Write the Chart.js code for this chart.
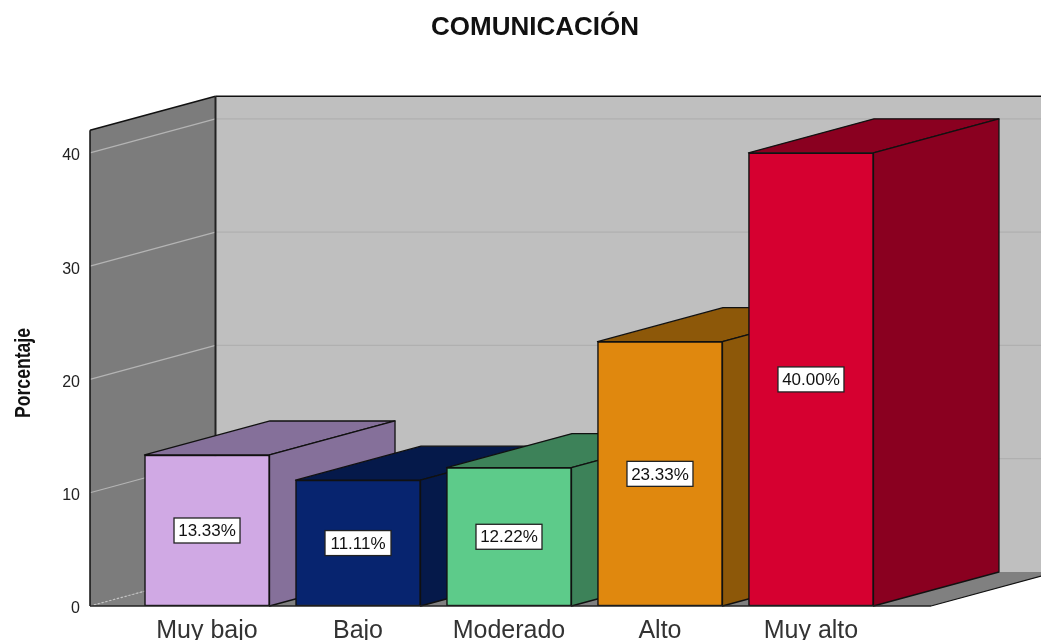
<!DOCTYPE html>
<html>
<head>
<meta charset="utf-8">
<title>COMUNICACIÓN</title>
<script src="https://cdn.jsdelivr.net/npm/chart.js@4"></script>
<style>
  html, body { margin: 0; padding: 0; background: #fff; overflow: hidden; }
  canvas { display: block; }
</style>
</head>
<body>
<canvas id="grafica" width="1041" height="640"></canvas>
<script>
// --- Datos ---
const categorias = ["Muy bajo", "Bajo", "Moderado", "Alto", "Muy alto"];
const porcentajes = [13.33, 11.11, 12.22, 23.33, 40.00];
const colorFrente = ["#d0a9e4", "#07246f", "#5dcb8a", "#e0880e", "#d60030"];
const colorLado = ["#85709a", "#05194a", "#3d8259", "#8d5809", "#8a0020"];
const marcasY = [0, 10, 20, 30, 40];

// --- Profundidad del efecto 3D ---
const fondoX = 125.5;
const fondoY = 34;
const negro = "#111";

function poligono(ctx, puntos, relleno, borde, grosor) {
    ctx.beginPath();
    puntos.forEach((p, i) => i ? ctx.lineTo(p[0], p[1]) : ctx.moveTo(p[0], p[1]));
    ctx.closePath();
    ctx.fillStyle = relleno;
    ctx.fill();
    if (borde) {
        ctx.lineJoin = "round";
        ctx.strokeStyle = borde;
        ctx.lineWidth = grosor || 1;
        ctx.stroke();
    }
}

function linea(ctx, x1, y1, x2, y2, color, grosor, guiones) {
    ctx.beginPath();
    ctx.setLineDash(guiones || []);
    ctx.moveTo(x1, y1);
    ctx.lineTo(x2, y2);
    ctx.strokeStyle = color;
    ctx.lineWidth = grosor;
    ctx.stroke();
    ctx.setLineDash([]);
}

// --- Paredes, piso y caras laterales de las barras ---
const caja3d = {
    id: "caja3d",
    afterLayout(chart) {
        // centrar el titulo como en el original
        chart.titleBlock.left = 30;
        chart.titleBlock.right = 1040;
    },
    beforeDatasetsDraw(chart) {
        const ctx = chart.ctx;
        const { left, right } = chart.chartArea;
        const escalaY = chart.scales.y;
        const base = escalaY.getPixelForValue(0);
        const tope = escalaY.top;

        ctx.save();
        // pared del fondo
        poligono(ctx, [[left + fondoX, tope - fondoY], [right + fondoX, tope - fondoY],
            [right + fondoX, base - fondoY], [left + fondoX, base - fondoY]], "#bfbfbf");
        // pared izquierda
        poligono(ctx, [[left, tope], [left + fondoX, tope - fondoY],
            [left + fondoX, base - fondoY], [left, base]], "#7c7c7c");
        // piso
        poligono(ctx, [[left, base], [right, base], [right + fondoX, base - fondoY],
            [left + fondoX, base - fondoY]], "#808080");

        // lineas de cuadricula
        marcasY.forEach(v => {
            const y = escalaY.getPixelForValue(v);
            if (v === 0) {
                linea(ctx, left, y, left + fondoX, y - fondoY, "#c4c4c4", 1.2, [2, 2]);
                return;
            }
            linea(ctx, left, y, left + fondoX, y - fondoY, "#b4b4b4", 1.2);
            linea(ctx, left + fondoX, y - fondoY, right + fondoX, y - fondoY, "#b0b0b0", 1.2);
        });

        // bordes
        linea(ctx, left + fondoX, tope - fondoY, right + fondoX, tope - fondoY, negro, 1.5);
        linea(ctx, left, tope, left + fondoX, tope - fondoY, negro, 1.5);
        linea(ctx, left + fondoX, tope - fondoY, left + fondoX, base - fondoY, "#222", 2);
        linea(ctx, left, tope, left, base, negro, 1.5);
        linea(ctx, right, base, right + fondoX, base - fondoY, negro, 1.2);

        // caras superior y lateral de cada barra
        chart.getDatasetMeta(0).data.forEach((barra, i) => {
            const mitad = barra.width / 2;
            const x1 = barra.x - mitad;
            const x2 = barra.x + mitad;
            const y = barra.y;
            poligono(ctx, [[x1, y], [x2, y], [x2 + fondoX, y - fondoY], [x1 + fondoX, y - fondoY]],
                colorLado[i], negro, 1.3);
            poligono(ctx, [[x2, y], [x2 + fondoX, y - fondoY], [x2 + fondoX, base - fondoY], [x2, base]],
                colorLado[i], negro, 1.3);
        });
        ctx.restore();
    },
    afterDatasetsDraw(chart) {
        const ctx = chart.ctx;
        const { left, right } = chart.chartArea;
        const base = chart.scales.y.getPixelForValue(0);
        ctx.save();
        linea(ctx, left, base, right, base, "#222", 1.5);
        // etiquetas de porcentaje
        ctx.font = "17px 'Liberation Sans'";
        ctx.textAlign = "center";
        ctx.textBaseline = "middle";
        chart.getDatasetMeta(0).data.forEach((barra, i) => {
            const cy = (barra.y + base) / 2;
            const ancho = 66;
            const alto = 25;
            ctx.fillStyle = "#fff";
            ctx.fillRect(barra.x - ancho / 2, cy - alto / 2, ancho, alto);
            ctx.strokeStyle = "#222";
            ctx.lineWidth = 1.3;
            ctx.strokeRect(barra.x - ancho / 2, cy - alto / 2, ancho, alto);
            ctx.fillStyle = "#111";
            ctx.fillText(porcentajes[i].toFixed(2) + "%", barra.x, cy + 1);
        });
        // titulo del eje Y, angosto como en el original
        ctx.translate(24, 373);
        ctx.rotate(-Math.PI / 2);
        ctx.scale(0.8, 1);
        ctx.font = "bold 22px 'Liberation Sans'";
        ctx.fillStyle = "#111";
        ctx.fillText("Porcentaje", 0, 0);
        ctx.restore();
    }
};

// --- Grafica ---
new Chart(document.getElementById("grafica"), {
    type: "bar",
    data: {
        datasets: [{
            data: porcentajes.map((v, i) => ({ x: i, y: v })),
            backgroundColor: colorFrente,
            borderColor: negro,
            borderWidth: 1.5,
            borderSkipped: false,
            barThickness: 125
        }]
    },
    options: {
        responsive: false,
        animation: false,
        layout: { padding: { left: 0, right: 110, top: 0, bottom: 0 } },
        plugins: {
            legend: { display: false },
            tooltip: { enabled: false },
            title: {
                display: true,
                text: "COMUNICACIÓN",
                color: "#111",
                font: { family: "'Liberation Sans'", size: 26, weight: "bold" },
                padding: { top: 12, bottom: 87 }
            }
        },
        scales: {
            x: {
                type: "linear",
                offset: false,
                min: -0.775,
                max: 4.795,
                afterBuildTicks: escala => { escala.ticks = categorias.map((c, i) => ({ value: i })); },
                afterFit: escala => { escala.height = 34; },
                grid: { display: false },
                border: { display: false },
                ticks: {
                    callback: valor => categorias[valor],
                    autoSkip: false,
                    maxRotation: 0,
                    padding: 2,
                    color: "#333",
                    font: { family: "'Liberation Sans'", size: 25 }
                }
            },
            y: {
                min: 0,
                max: 42,
                afterFit: escala => { escala.width = 90; },
                grid: { display: false, drawTicks: false },
                border: { display: false },
                ticks: {
                    stepSize: 10,
                    includeBounds: false,
                    padding: 10,
                    labelOffset: 3,
                    color: "#222",
                    font: { family: "'Liberation Sans'", size: 16 }
                }
            }
        }
    },
    plugins: [caja3d]
});
</script>
</body>
</html>
